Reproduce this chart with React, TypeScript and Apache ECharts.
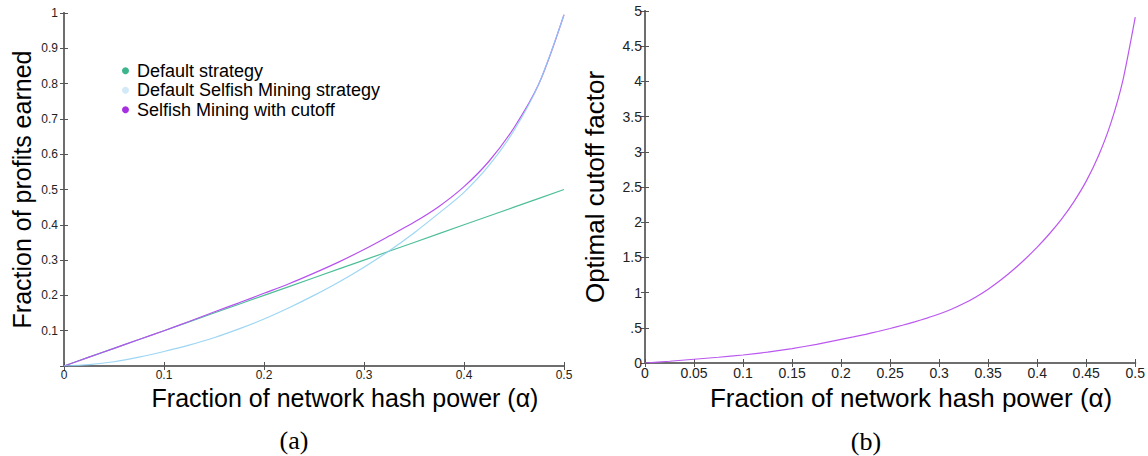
import React, { useEffect, useRef } from "react";
import * as echarts from "echarts";

// ---- Panel (a) data ----
const alphaA = [0, 0.025, 0.05, 0.075, 0.1, 0.125, 0.15, 0.175, 0.2, 0.225, 0.25, 0.275, 0.3, 0.325, 0.35, 0.375, 0.4, 0.425, 0.45, 0.475, 0.5];
const defaultStrategy = [0, 0.025, 0.05, 0.075, 0.1, 0.125, 0.15, 0.175, 0.2, 0.225, 0.25, 0.275, 0.3, 0.325, 0.35, 0.375, 0.4, 0.425, 0.45, 0.475, 0.5];
const selfishDefault = [0, 0.004, 0.012, 0.025, 0.041, 0.059, 0.08, 0.105, 0.133, 0.165, 0.2, 0.238, 0.28, 0.326, 0.377, 0.433, 0.492, 0.568, 0.667, 0.8, 0.995];
const selfishCutoff = [0, 0.025, 0.05, 0.075, 0.1, 0.126, 0.153, 0.179, 0.206, 0.233, 0.263, 0.295, 0.33, 0.368, 0.407, 0.452, 0.508, 0.58, 0.675, 0.8, 0.995];
const seriesNames = ["Default strategy", "Default Selfish Mining strategy", "Selfish Mining with cutoff"];

// ---- Panel (b) data ----
const alphaB = [0, 0.025, 0.05, 0.075, 0.1, 0.125, 0.15, 0.175, 0.2, 0.2125, 0.225, 0.2375, 0.25, 0.2625, 0.275, 0.2875, 0.3, 0.3125, 0.325, 0.3375, 0.35, 0.3625, 0.375, 0.3875, 0.4, 0.4125, 0.425, 0.4375, 0.45, 0.4625, 0.475, 0.4875, 0.5];
const cutoffFactor = [0, 0.025, 0.053, 0.082, 0.114, 0.155, 0.205, 0.265, 0.335, 0.37, 0.407, 0.447, 0.49, 0.536, 0.585, 0.638, 0.696, 0.764, 0.844, 0.939, 1.049, 1.175, 1.317, 1.474, 1.646, 1.836, 2.048, 2.293, 2.583, 2.943, 3.403, 4.023, 4.913];

const captions = ["(a)", "(b)"];
const xName = "Fraction of network hash power (α)";
const yNameA = "Fraction of profits earned";
const yNameB = "Optimal cutoff factor";

const lineColors = ["#4fbf9b", "#8ccff2", "#b652f0"];
const legendColors = ["#3cb48c", "#d2e9f7", "#a62fe0"];
const FONT = "Liberation Sans, Arial, sans-serif";
const AXIS_COLOR = "#6e6e6e";

function pairs(xs: number[], ys: number[]) {
  return xs.map((x, i) => [x, ys[i]]);
}

export default function App() {
  const ref = useRef<HTMLDivElement>(null);
  useEffect(() => {
    if (!ref.current) return;
    const chart = echarts.init(ref.current, null, { renderer: "svg" });
    const axisLine = { show: true, lineStyle: { color: AXIS_COLOR, width: 2 } };
    const tick = { show: true, inside: true, length: 4, lineStyle: { color: "#555", width: 1 } };
    const hiddenLabel = { show: false };
    const labelA = { fontSize: 12, color: "#222", fontFamily: FONT, showMinLabel: true, showMaxLabel: true };
    const labelB = { fontSize: 14, color: "#222", fontFamily: FONT, showMinLabel: true, showMaxLabel: true };
    const option: any = {
      animation: false,
      backgroundColor: "#fff",
      grid: [
        { left: 64, top: 13, width: 500, height: 353 },
        { left: 645, top: 11, width: 494, height: 352 },
      ],
      xAxis: [
        {
          gridIndex: 0, type: "value", min: 0, max: 0.5, interval: 0.1, position: "bottom",
          axisLine, axisTick: tick, splitLine: { show: false },
          axisLabel: { ...labelA, margin: 3 },
          name: xName, nameLocation: "middle", nameGap: 18,
          nameTextStyle: { fontSize: 25, color: "#000", fontFamily: FONT, padding: [0, 0, 0, 62] },
        },
        {
          gridIndex: 0, type: "value", min: 0, max: 0.5, interval: 0.1, position: "top",
          axisLine, axisTick: tick, splitLine: { show: false }, axisLabel: hiddenLabel,
        },
        {
          gridIndex: 1, type: "value", min: 0, max: 0.5, interval: 0.05, position: "bottom",
          axisLine, axisTick: tick, splitLine: { show: false },
          axisLabel: { ...labelB, margin: 3 },
          name: xName, nameLocation: "middle", nameGap: 19,
          nameTextStyle: { fontSize: 26, color: "#000", fontFamily: FONT, padding: [0, 0, 0, 42] },
        },
        {
          gridIndex: 1, type: "value", min: 0, max: 0.5, interval: 0.05, position: "top",
          axisLine, axisTick: tick, splitLine: { show: false }, axisLabel: hiddenLabel,
        },
      ],
      yAxis: [
        {
          gridIndex: 0, type: "value", min: 0, max: 1, interval: 0.1, position: "left",
          axisLine, axisTick: tick, splitLine: { show: false },
          axisLabel: { ...labelA, margin: 6, formatter: (v: number) => (v === 0 ? "" : String(Math.round(v * 10) / 10)) },
          name: yNameA, nameLocation: "middle", nameGap: 30, nameRotate: 90,
          nameTextStyle: { fontSize: 25, color: "#000", fontFamily: FONT },
        },
        {
          gridIndex: 0, type: "value", min: 0, max: 1, interval: 0.1, position: "right",
          axisLine, axisTick: tick, splitLine: { show: false }, axisLabel: hiddenLabel,
        },
        {
          gridIndex: 1, type: "value", min: 0, max: 5, interval: 0.5, position: "left",
          axisLine, axisTick: tick, splitLine: { show: false },
          axisLabel: { ...labelB, margin: 3, formatter: (v: number) => (v === 0.5 ? ".5" : String(v)) },
          name: yNameB, nameLocation: "middle", nameGap: 37, nameRotate: 90,
          nameTextStyle: { fontSize: 26, color: "#000", fontFamily: FONT },
        },
        {
          gridIndex: 1, type: "value", min: 0, max: 5, interval: 0.5, position: "right",
          axisLine, axisTick: tick, splitLine: { show: false }, axisLabel: hiddenLabel,
        },
      ],
      legend: {
        orient: "vertical", left: 122, top: 61, padding: 0, icon: "circle", itemWidth: 7, itemHeight: 7, itemGap: 0,
        selectedMode: false,
        textStyle: { fontSize: 18, color: "#000", fontFamily: FONT, lineHeight: 19.5, padding: [0, 0, 0, 3] },
        data: seriesNames.map((n, i) => ({ name: n, itemStyle: { color: legendColors[i] } })),
      },
      series: [
        {
          name: seriesNames[0], type: "line", xAxisIndex: 0, yAxisIndex: 0, showSymbol: false, symbol: "circle",
          data: pairs(alphaA, defaultStrategy), lineStyle: { color: lineColors[0], width: 1.2 }, itemStyle: { color: lineColors[0] },
        },
        {
          name: seriesNames[2], type: "line", xAxisIndex: 0, yAxisIndex: 0, showSymbol: false, symbol: "circle",
          smooth: 0.3,
          data: pairs(alphaA, selfishCutoff), lineStyle: { color: lineColors[2], width: 1.2 }, itemStyle: { color: lineColors[2] },
        },
        {
          name: seriesNames[1], type: "line", xAxisIndex: 0, yAxisIndex: 0, showSymbol: false, symbol: "circle",
          smooth: 0.3,
          data: pairs(alphaA, selfishDefault), lineStyle: { color: lineColors[1], width: 1.2, opacity: 0.85 }, itemStyle: { color: lineColors[1] },
        },
        {
          name: "cutoff factor", type: "line", xAxisIndex: 2, yAxisIndex: 2, showSymbol: false,
          smooth: 0.2,
          data: pairs(alphaB, cutoffFactor), lineStyle: { color: "#bb58f0", width: 1.2 }, itemStyle: { color: "#bb58f0" },
        },
      ],
      graphic: [
        { type: "text", x: 294, y: 440, style: { text: captions[0], fontSize: 26, fontFamily: "Liberation Serif, DejaVu Serif, serif", fill: "#000", align: "center", verticalAlign: "middle" } },
        { type: "text", x: 866, y: 441, style: { text: captions[1], fontSize: 26, fontFamily: "Liberation Serif, DejaVu Serif, serif", fill: "#000", align: "center", verticalAlign: "middle" } },
      ],
    };
    chart.setOption(option);
    return () => chart.dispose();
  }, []);
  return <div ref={ref} style={{ position: "absolute", left: 0, top: 0, width: 1148, height: 456 }} />;
}
